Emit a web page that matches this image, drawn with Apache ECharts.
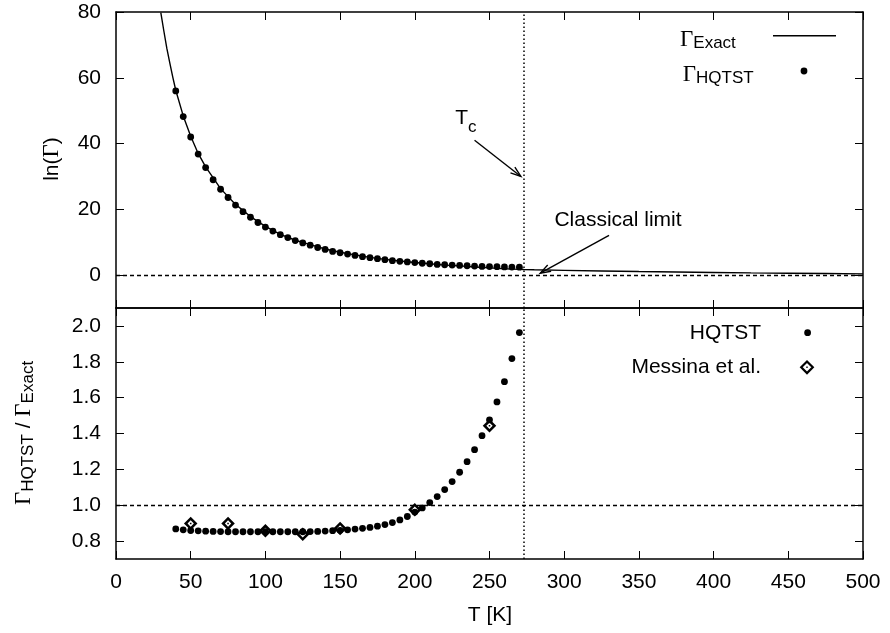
<!DOCTYPE html>
<html><head><meta charset="utf-8">
<script src="https://cdn.jsdelivr.net/npm/echarts@6/dist/echarts.min.js"></script>
<style>html,body{margin:0;padding:0;background:#fff}#c{width:890px;height:633px}</style>
</head><body><div id="c"></div>
<script>
// ---------- data ----------
const T_HQ = [40,45,50,55,60,65,70,75,80,85,90,95,100,105,110,115,120,125,130,135,140,145,150,155,160,165,170,175,180,185,190,195,200,205,210,215,220,225,230,235,240,245,250,255,260,265,270];
const lnGammaHQ = [56.0,48.2,42.0,36.8,32.7,29.0,26.1,23.6,21.3,19.3,17.6,16.0,14.6,13.4,12.3,11.4,10.5,9.8,9.1,8.4,7.8,7.2,6.8,6.4,6.0,5.6,5.3,5.0,4.7,4.4,4.2,4.0,3.8,3.6,3.45,3.25,3.15,3.05,2.95,2.85,2.75,2.65,2.6,2.55,2.5,2.45,2.4];
const T_EX = [30,32,34,36,38,40,45,50,55,60,70,80,90,100,110,120,130,140,150,160,170,180,190,200,210,220,230,240,250,260,270,273,280,300,325,350,375,400,425,450,475,500];
const lnGammaEX = [79.8,74.3,69.0,64.5,60.2,56.2,48.4,42.2,37.0,32.9,26.3,21.5,17.8,14.8,12.4,10.6,9.25,7.95,6.95,6.15,5.4,4.8,4.3,3.85,3.45,3.05,2.8,2.45,2.2,1.95,1.75,1.7,1.62,1.45,1.25,1.08,0.93,0.8,0.68,0.57,0.47,0.38];
const ratioHQ = [0.868,0.863,0.859,0.857,0.855,0.854,0.853,0.852,0.852,0.852,0.852,0.852,0.852,0.852,0.852,0.852,0.852,0.852,0.853,0.854,0.856,0.858,0.860,0.863,0.867,0.871,0.876,0.883,0.892,0.903,0.918,0.937,0.962,0.985,1.015,1.048,1.087,1.132,1.184,1.243,1.310,1.388,1.476,1.576,1.689,1.818,1.963];
const T_MES = [50,75,100,125,150,200,250];
const ratioMES = [0.898,0.898,0.857,0.838,0.870,0.975,1.443];
const Tc = 273;
const xTicks = [0,50,100,150,200,250,300,350,400,450,500];
const yTopTicks = [0,20,40,60,80];
const yBotTicks = [0.8,1.0,1.2,1.4,1.6,1.8,2.0];

// ---------- chart ----------
const SANS = 'Liberation Sans', SERIF = 'Liberation Serif';
const FS = 21;
const chart = echarts.init(document.getElementById('c'), null, {renderer:'canvas'});
const zip = (a,b) => a.map((v,i)=>[v,b[i]]);
const black = '#000';

function xAx(g, pos, labels){
  return {type:'value', gridIndex:g, position:pos, min:xTicks[0], max:xTicks[xTicks.length-1], interval:50,
    axisLine:{show:true,onZero:false,lineStyle:{color:black,width:1.5}},
    axisTick:{show:true,inside:true,length:8,customValues:xTicks,lineStyle:{color:black,width:1}},
    axisLabel:{show:labels,customValues:xTicks,color:black,fontFamily:SANS,fontSize:FS,margin:13},
    splitLine:{show:false}};
}
function yAx(g, pos, labels, min, max, ticks, fmt){
  return {type:'value', gridIndex:g, position:pos, min:min, max:max,
    axisLine:{show:true,onZero:false,lineStyle:{color:black,width:1.5}},
    axisTick:{show:true,inside:true,length:8,customValues:ticks,lineStyle:{color:black,width:1}},
    axisLabel:{show:labels,customValues:ticks,color:black,fontFamily:SANS,fontSize:FS,margin:15,formatter:fmt},
    splitLine:{show:false}};
}
const ringDiamond = 'path://M6 0L12 6L6 12L0 6Z M6 3.2L3.2 6L6 8.8L8.8 6Z M5.3 5.3L6.7 5.3L6.7 6.7L5.3 6.7Z';

const option = {
  animation:false,
  backgroundColor:'#fff',
  grid:[
    {left:116,right:27,top:12,height:296},
    {left:116,right:27,top:308,height:251}
  ],
  xAxis:[xAx(0,'bottom',false), xAx(0,'top',false), xAx(1,'bottom',true), xAx(1,'top',false)],
  yAxis:[
    yAx(0,'left',true,-10,80,yTopTicks, v=>String(v)),
    yAx(0,'right',false,-10,80,yTopTicks),
    yAx(1,'left',true,0.7,2.1,yBotTicks, v=>v.toFixed(1)),
    yAx(1,'right',false,0.7,2.1,yBotTicks)
  ],
  series:[
    {name:'Exact', type:'line', xAxisIndex:0, yAxisIndex:0, data:zip(T_EX,lnGammaEX),
     showSymbol:false, symbol:'none', lineStyle:{color:black,width:1.4}, z:3,
     markLine:{silent:true, symbol:['none','none'], label:{show:false},
       data:[
         {yAxis:0, lineStyle:{color:black,width:1.4,type:[4,3]}},
         {xAxis:Tc, lineStyle:{color:black,width:1.5,type:[1.5,2.5]}}
       ]}},
    {name:'HQTST', type:'scatter', xAxisIndex:0, yAxisIndex:0, data:zip(T_HQ,lnGammaHQ),
     symbol:'circle', symbolSize:6.8, itemStyle:{color:black,opacity:1}, z:4},
    {name:'HQTST ratio', type:'scatter', xAxisIndex:2, yAxisIndex:2, data:zip(T_HQ,ratioHQ),
     symbol:'circle', symbolSize:6.8, itemStyle:{color:black,opacity:1}, z:4,
     markLine:{silent:true, symbol:['none','none'], label:{show:false},
       data:[
         {yAxis:1.0, lineStyle:{color:black,width:1.4,type:[4,3]}},
         {xAxis:Tc, lineStyle:{color:black,width:1.5,type:[1.5,2.5]}}
       ]}},
    {name:'Messina et al.', type:'scatter', xAxisIndex:2, yAxisIndex:2, data:zip(T_MES,ratioMES),
     symbol:ringDiamond, symbolSize:13.5, itemStyle:{color:black,opacity:1}, z:5}
  ]
};
chart.setOption(option);

// ---------- annotations / labels ----------
const P = (x,y) => chart.convertToPixel({xAxisIndex:0,yAxisIndex:0},[x,y]);
function arrow(from, to){
  const a = P(from[0],from[1]), b = P(to[0],to[1]);
  const ang = Math.atan2(b[1]-a[1], b[0]-a[0]);
  const hl = 11, ha = 0.33;
  const w1 = [b[0]-hl*Math.cos(ang-ha), b[1]-hl*Math.sin(ang-ha)];
  const w2 = [b[0]-hl*Math.cos(ang+ha), b[1]-hl*Math.sin(ang+ha)];
  return [
    {type:'line', shape:{x1:a[0],y1:a[1],x2:b[0],y2:b[1]}, style:{stroke:black,lineWidth:1.4}, z:10},
    {type:'polyline', shape:{points:[w1,b,w2]}, style:{stroke:black,lineWidth:1.4,fill:null}, z:10}
  ];
}
const rich = {
  n:{fontFamily:SANS,fontSize:FS,color:black},
  g:{fontFamily:SERIF,fontSize:23,color:black},
  s:{fontFamily:SANS,fontSize:17,color:black,padding:[8,0,0,0]},
  c:{fontFamily:SANS,fontSize:17,color:black,padding:[18,0,0,0]}
};
const txt = (x,y,text,align,rot) => ({type:'text', x:x, y:y, rotation:rot||0, z:10,
  style:{text:text, rich:rich, align:align||'center', verticalAlign:'middle', fill:black, font:FS+'px '+SANS}});

const tcPos = P(227, 47.7);
const clPos = P(336, 16.6);
const graphic = [
  ...arrow([240,41],[271,30]),
  ...arrow([330,12.1],[284,0.6]),
  txt(tcPos[0], tcPos[1], '{n|T}{c|c}', 'left'),
  txt(clPos[0], clPos[1], '{n|Classical limit}', 'center'),
  // axis titles
  txt(490, 615, '{n|T [K]}', 'center'),
  txt(52, 159, '{n|ln(}{g|Γ}{n|)}', 'center', Math.PI/2),
  txt(24, 433, '{g|Γ}{s|HQTST}{n| / }{g|Γ}{s|Exact}', 'center', Math.PI/2),
  // top legend
  txt(680, 39.7, '{g|Γ}{s|Exact}', 'left'),
  {type:'line', shape:{x1:773,y1:35.7,x2:836,y2:35.7}, style:{stroke:black,lineWidth:1.4}, z:10},
  txt(682.7, 74.5, '{g|Γ}{s|HQTST}', 'left'),
  {type:'circle', shape:{cx:804,cy:71,r:3.4}, style:{fill:black}, z:10},
  // bottom legend
  txt(761, 333, '{n|HQTST}', 'right'),
  {type:'circle', shape:{cx:807.6,cy:332.7,r:3.4}, style:{fill:black}, z:10},
  txt(761, 367.3, '{n|Messina et al.}', 'right'),
  {type:'polygon', shape:{points:[[801.2,367.3],[807,361.5],[812.8,367.3],[807,373.1]]}, style:{stroke:black,lineWidth:2.2,fill:null}, z:10},
  {type:'rect', shape:{x:806.3,y:366.6,width:1.4,height:1.4}, style:{fill:black}, z:10}
];
chart.setOption({graphic:graphic});
</script>
</body></html>
